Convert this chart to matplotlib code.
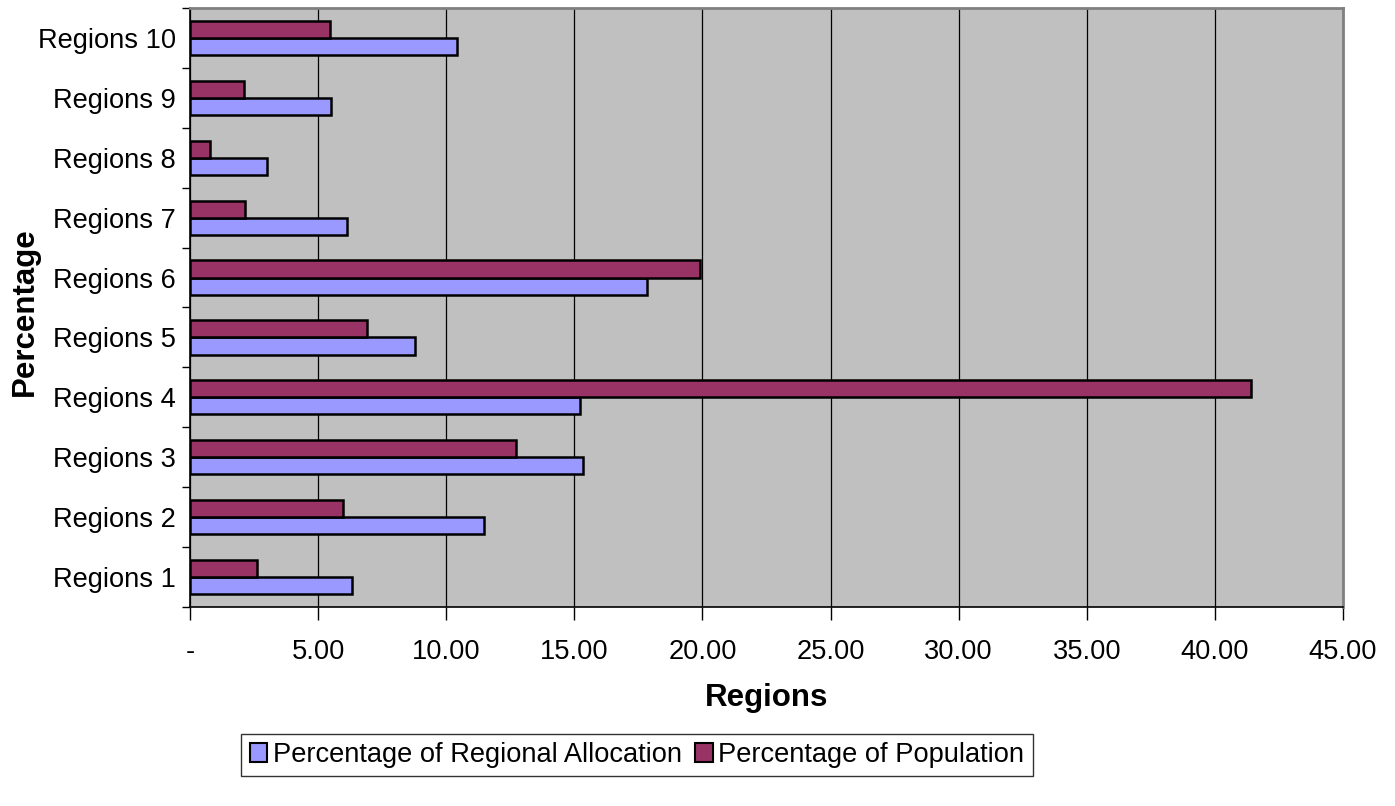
import matplotlib
matplotlib.use("Agg")
import matplotlib.pyplot as plt
import numpy as np
from matplotlib.patches import Patch

categories = ["Regions 1", "Regions 2", "Regions 3", "Regions 4", "Regions 5",
              "Regions 6", "Regions 7", "Regions 8", "Regions 9", "Regions 10"]
allocation = [6.33, 11.47, 15.33, 15.22, 8.80, 17.85, 6.11, 2.99, 5.50, 10.41]
population = [2.61, 5.99, 12.74, 41.40, 6.91, 19.89, 2.16, 0.80, 2.11, 5.45]
xticks = [0, 5, 10, 15, 20, 25, 30, 35, 40, 45]
xticklabels = ["-", "5.00", "10.00", "15.00", "20.00", "25.00", "30.00", "35.00", "40.00", "45.00"]

plt.rcParams['font.family'] = ['Liberation Sans', 'DejaVu Sans']

fig = plt.figure(figsize=(13.95, 8.06), dpi=100)
ax = fig.add_axes([190/1395, 1-607/806, (1343-190)/1395, (607-8)/806])
ax.set_facecolor("#C0C0C0")

y = np.arange(len(categories))
h = 1/3.5
blue = "#9999FF"
red = "#993366"
ax.barh(y - h/2, allocation, height=h, color=blue, edgecolor="black", linewidth=1.8, zorder=3,
        label="Percentage of Regional Allocation")
ax.barh(y + h/2, population, height=h, color=red, edgecolor="black", linewidth=1.8, zorder=3,
        label="Percentage of Population")

fs = 19.6
ax.set_xlim(0, 45)
ax.set_ylim(-0.5, len(categories) - 0.5)
ax.set_xticks(xticks)
ax.set_xticklabels(xticklabels, fontsize=fs)
ax.xaxis.grid(True, color="black", linewidth=0.9, zorder=1)
ax.set_axisbelow(True)

ax.set_yticks(np.arange(-0.5, len(categories), 1.0))
ax.set_yticklabels([])
ax.set_yticks(y, minor=True)
ax.set_yticklabels(categories, minor=True, fontsize=fs)
ax.tick_params(axis="y", which="minor", length=0, pad=10)
ax.tick_params(axis="y", which="major", length=6, width=1, direction="out")
ax.tick_params(axis="x", length=9, width=1, direction="out", pad=14)

for side in ["top", "right"]:
    ax.spines[side].set_color("#808080")
    ax.spines[side].set_linewidth(2)
for side in ["left", "bottom"]:
    ax.spines[side].set_color("black")
    ax.spines[side].set_linewidth(1.2)

ax.set_xlabel("Regions", fontsize=22.5, fontweight="bold", va="center")
ax.xaxis.set_label_coords(0.5, -(698-607)/599)
ax.set_ylabel("Percentage", fontsize=22.5, fontweight="bold", va="center")
ax.yaxis.set_label_coords((25-190)/1153, (607-312)/599)

handles = [Patch(facecolor=blue, edgecolor="black", linewidth=1.5),
           Patch(facecolor=red, edgecolor="black", linewidth=1.5)]
leg = fig.legend(handles, ["Percentage of Regional Allocation", "Percentage of Population"],
                 loc="center", bbox_to_anchor=(637/1395, 1-755/806), ncol=2,
                 fontsize=fs, frameon=True, fancybox=False, edgecolor="black",
                 handlelength=0.65, handleheight=0.65, handletextpad=0.2, columnspacing=0.5,
                 borderpad=0.3, borderaxespad=0)
leg.get_frame().set_linewidth(1.0)

fig.savefig("out.png", dpi=100)
